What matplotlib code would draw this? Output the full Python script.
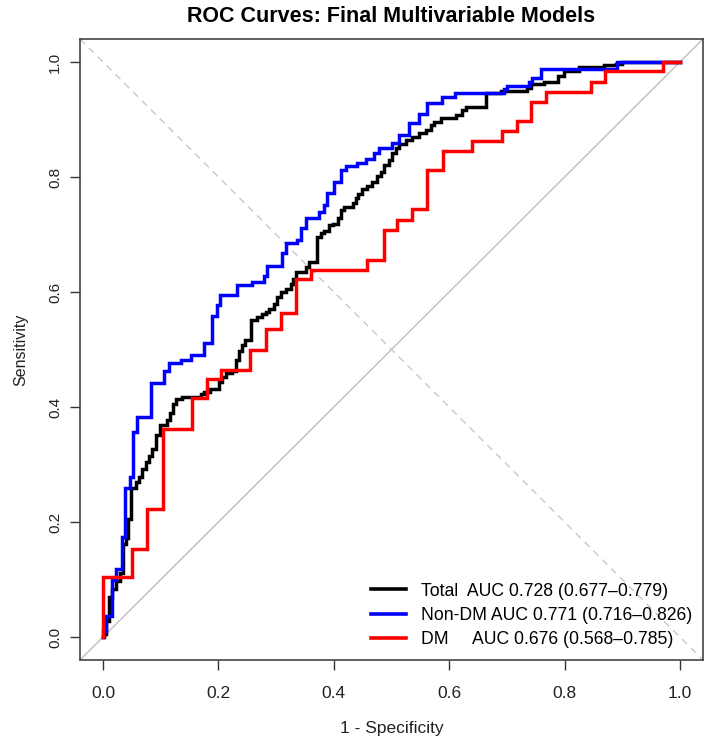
import matplotlib
matplotlib.use("Agg")
import matplotlib.pyplot as plt

plt.rcParams['font.family'] = ['Liberation Sans', 'DejaVu Sans']

# ROC step curves: x = 1 - specificity, y = sensitivity
total_fpr = [0, 0.002, 0.005, 0.010, 0.016, 0.022, 0.029, 0.034, 0.039, 0.044,
             0.048, 0.057, 0.062, 0.068, 0.074, 0.080, 0.085, 0.092, 0.098, 0.110,
             0.116, 0.121, 0.127, 0.137, 0.169, 0.175, 0.185, 0.201, 0.207, 0.213,
             0.224, 0.231, 0.235, 0.240, 0.246, 0.256, 0.266, 0.276, 0.282, 0.288,
             0.296, 0.302, 0.308, 0.317, 0.325, 0.329, 0.335, 0.352, 0.357, 0.370,
             0.377, 0.383, 0.392, 0.399, 0.408, 0.412, 0.418, 0.433, 0.438, 0.442,
             0.449, 0.458, 0.467, 0.475, 0.481, 0.487, 0.496, 0.501, 0.507, 0.513,
             0.525, 0.536, 0.548, 0.559, 0.568, 0.574, 0.585, 0.611, 0.623, 0.629,
             0.663, 0.689, 0.735, 0.741, 0.764, 0.789, 0.799, 0.825, 0.868, 0.889,
             0.900, 1.0]
total_tpr = [0, 0.005, 0.028, 0.069, 0.083, 0.098, 0.112, 0.162, 0.173, 0.205,
             0.260, 0.269, 0.278, 0.292, 0.304, 0.315, 0.327, 0.352, 0.368, 0.378,
             0.389, 0.406, 0.414, 0.417, 0.423, 0.426, 0.432, 0.443, 0.452, 0.459,
             0.463, 0.481, 0.498, 0.507, 0.516, 0.552, 0.556, 0.562, 0.566, 0.571,
             0.580, 0.591, 0.600, 0.606, 0.614, 0.623, 0.635, 0.643, 0.652, 0.696,
             0.702, 0.706, 0.716, 0.719, 0.729, 0.743, 0.748, 0.755, 0.763, 0.771,
             0.780, 0.784, 0.791, 0.801, 0.809, 0.821, 0.829, 0.841, 0.850, 0.858,
             0.864, 0.870, 0.876, 0.882, 0.890, 0.896, 0.902, 0.908, 0.916, 0.921,
             0.946, 0.949, 0.954, 0.961, 0.966, 0.976, 0.985, 0.991, 0.995, 0.997,
             1.0, 1.0]

nondm_fpr = [0, 0, 0.005, 0.016, 0.023, 0.032, 0.038, 0.046, 0.052, 0.059,
             0.083, 0.106, 0.114, 0.135, 0.152, 0.175, 0.189, 0.198, 0.203, 0.233,
             0.259, 0.279, 0.285, 0.311, 0.317, 0.337, 0.343, 0.352, 0.374, 0.383,
             0.388, 0.400, 0.412, 0.421, 0.440, 0.456, 0.470, 0.478, 0.501, 0.513,
             0.530, 0.548, 0.562, 0.588, 0.610, 0.695, 0.700, 0.738, 0.744, 0.759,
             0.891, 1.0]
nondm_tpr = [0, 0.010, 0.037, 0.099, 0.118, 0.174, 0.260, 0.279, 0.357, 0.383,
             0.441, 0.462, 0.476, 0.482, 0.490, 0.511, 0.559, 0.578, 0.594, 0.613,
             0.618, 0.627, 0.646, 0.667, 0.685, 0.691, 0.711, 0.728, 0.739, 0.751,
             0.772, 0.791, 0.812, 0.819, 0.824, 0.831, 0.841, 0.850, 0.859, 0.873,
             0.894, 0.909, 0.929, 0.939, 0.946, 0.953, 0.958, 0.965, 0.972, 0.988,
             1.0, 1.0]

dm_fpr = [0, 0, 0.050, 0.076, 0.104, 0.154, 0.180, 0.204, 0.255, 0.282,
          0.309, 0.334, 0.360, 0.458, 0.487, 0.510, 0.536, 0.561, 0.589, 0.640,
          0.692, 0.717, 0.742, 0.768, 0.846, 0.870, 0.970, 1.0]
dm_tpr = [0, 0.105, 0.153, 0.223, 0.362, 0.415, 0.448, 0.465, 0.500, 0.535,
          0.563, 0.622, 0.639, 0.655, 0.707, 0.726, 0.744, 0.812, 0.845, 0.862,
          0.880, 0.897, 0.930, 0.948, 0.965, 0.984, 1.0, 1.0]

labels = ["Total  AUC 0.728 (0.677\u20130.779)",
          "Non-DM AUC 0.771 (0.716\u20130.826)",
          "DM     AUC 0.676 (0.568\u20130.785)"]
colors = ["black", "blue", "red"]
ticks = [0.0, 0.2, 0.4, 0.6, 0.8, 1.0]

fig = plt.figure(figsize=(7.12, 7.46), dpi=100)
ax = fig.add_axes([80 / 712, 86 / 746, 623 / 712, 621 / 746])

# reference diagonals
ax.axline((0, 0), slope=1, color="#bebebe", lw=1.0, zorder=1)
ax.axline((0, 1), slope=-1, color="#c8c8c8", lw=1.0, ls=(0, (5, 4)), zorder=1)

curves = [(total_fpr, total_tpr), (nondm_fpr, nondm_tpr), (dm_fpr, dm_tpr)]
for (fx, fy), col, lab in zip(curves, colors, labels):
    ax.plot(fx, fy, drawstyle="steps-post", color=col, lw=2.5, label=lab,
            solid_joinstyle="miter", zorder=3)

ax.set_xlim(-0.04, 1.04)
ax.set_ylim(-0.04, 1.04)
ax.set_xticks(ticks)
ax.set_yticks(ticks)
ax.set_xticklabels([f"{t:.1f}" for t in ticks])
ax.set_yticklabels([f"{t:.1f}" for t in ticks], rotation=90, va="center")
ax.tick_params(axis="both", length=7, width=1, colors="#333333",
               labelcolor="#222222")
ax.tick_params(axis="x", labelsize=12.5, pad=12)
ax.tick_params(axis="y", labelsize=11, pad=6)
for s in ax.spines.values():
    s.set_color("#444444")
    s.set_linewidth(1.2)

ax.set_xlabel("1 - Specificity", fontsize=12.5, color="#222222", labelpad=14)
ax.set_ylabel("Sensitivity", fontsize=11.5, color="#222222", labelpad=14)
fig.suptitle("ROC Curves: Final Multivariable Models", x=391 / 712, y=1 - 16 / 746,
             va="center", fontsize=15.5, fontweight="bold")

leg = ax.legend(loc="lower right", bbox_to_anchor=(1.0, 0.0015), frameon=False,
                fontsize=12.7, handlelength=2.0, handletextpad=0.85,
                labelspacing=0.42, borderaxespad=0.2)
for line in leg.get_lines():
    line.set_linewidth(2.6)

fig.savefig("out.png", dpi=100)
